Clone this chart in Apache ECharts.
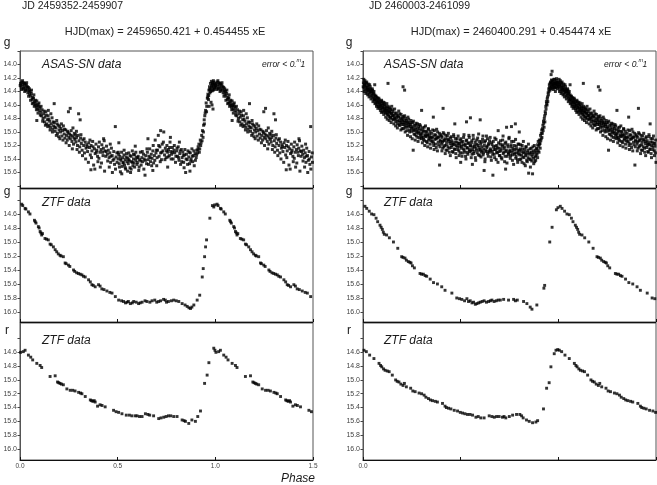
<!DOCTYPE html>
<html><head><meta charset="utf-8">
<script src="https://cdn.jsdelivr.net/npm/echarts@6/dist/echarts.min.js"></script>
<style>html,body{margin:0;padding:0;background:#fff}#c{width:657px;height:485px}</style>
</head><body><div id="c"></div>
<script>
// ---- data: [phase, magnitude], phase 0..1 (phase <= 0.5 repeated at +1 for the 0..1.5 plot) ----
const leftAsasG = [
[0.003,14.28],[0.006,14.33],[0.009,14.26],[0.012,14.30],[0.015,14.36],[0.018,14.27],[0.021,14.32],[0.024,14.40],[0.027,14.29],[0.030,14.35],[0.033,14.31],[0.036,14.38],[0.040,14.42],[0.043,14.34],[0.046,14.39],[0.049,14.44],
[0.052,14.40],[0.055,14.47],[0.058,14.43],[0.062,14.52],[0.065,14.49],[0.068,14.57],[0.071,14.45],[0.074,14.55],[0.077,14.60],[0.080,14.58],[0.083,14.63],[0.086,14.54],[0.090,14.66],[0.093,14.59],[0.096,14.62],[0.099,14.68],
[0.102,14.64],[0.106,14.71],[0.110,14.76],[0.113,14.67],[0.118,14.80],[0.121,14.73],[0.125,14.85],[0.128,14.78],[0.132,14.70],[0.136,14.88],[0.140,14.82],[0.144,14.76],[0.148,14.90],[0.086,14.83],
[0.152,14.84],[0.156,14.93],[0.160,14.88],[0.164,14.79],[0.168,14.96],[0.172,14.91],[0.176,14.86],[0.180,14.99],[0.184,14.94],[0.188,14.83],[0.192,15.02],[0.196,14.90],[0.200,14.97],
[0.203,14.92],[0.207,15.00],[0.210,14.95],[0.214,15.06],[0.218,14.98],[0.222,14.91],[0.226,15.03],[0.230,15.09],[0.234,14.97],[0.238,15.05],[0.242,15.12],[0.246,15.01],[0.250,15.08],
[0.257,14.65],[0.248,14.70],[0.300,14.73],[0.308,14.82],
[0.254,15.03],[0.258,15.10],[0.262,14.98],[0.266,15.14],[0.270,15.06],[0.274,15.18],[0.278,15.02],[0.282,15.11],[0.286,15.15],[0.290,15.08],[0.294,15.20],[0.298,15.05],
[0.302,15.13],[0.306,15.22],[0.310,15.09],[0.314,15.17],[0.318,15.27],[0.322,15.12],[0.326,15.20],[0.330,15.31],[0.334,15.15],[0.338,15.24],[0.342,15.19],[0.346,15.29],
[0.352,15.16],[0.356,15.23],[0.360,15.34],[0.364,15.20],[0.368,15.28],[0.372,15.14],[0.377,15.49],[0.381,15.25],[0.385,15.32],[0.389,15.18],[0.393,15.27],[0.397,15.36],
[0.402,15.22],[0.406,15.15],[0.411,15.52],[0.415,15.26],[0.419,15.19],[0.423,15.30],[0.427,15.24],[0.431,15.13],[0.435,15.28],[0.439,15.36],[0.443,15.21],[0.447,15.33],
[0.452,15.27],[0.456,15.38],[0.460,15.31],[0.464,15.45],[0.468,15.24],[0.472,15.35],[0.476,15.42],[0.480,15.29],[0.484,15.48],[0.488,14.92],[0.492,15.37],[0.496,15.31],
[0.502,15.40],[0.505,15.33],[0.508,15.47],[0.511,15.36],[0.514,15.59],[0.517,15.42],[0.520,15.30],[0.523,15.51],[0.526,15.38],[0.529,15.45],[0.532,15.34],[0.535,15.49],[0.538,15.41],[0.541,15.55],[0.544,15.37],[0.547,15.44],
[0.551,15.39],[0.554,15.47],[0.557,15.31],[0.560,15.43],[0.563,15.53],[0.566,15.60],[0.569,15.36],[0.572,15.44],[0.575,15.28],[0.578,15.50],[0.581,15.40],[0.584,15.46],[0.587,15.34],[0.590,15.21],[0.593,15.42],[0.596,15.38],
[0.601,15.45],[0.605,15.36],[0.608,15.57],[0.612,15.41],[0.616,15.30],[0.620,15.49],[0.624,15.38],[0.628,15.44],[0.632,15.33],[0.636,15.40],[0.640,15.64],[0.644,15.35],[0.648,15.47],
[0.652,15.30],[0.656,15.41],[0.660,15.36],[0.664,15.25],[0.668,15.44],[0.672,15.33],[0.676,15.39],[0.680,15.28],[0.684,15.46],[0.688,15.35],[0.692,15.12],[0.696,15.31],[0.700,15.50],
[0.704,15.27],[0.708,15.05],[0.712,15.36],[0.716,15.22],[0.720,15.31],[0.724,15.41],[0.728,15.18],[0.732,15.28],[0.736,15.00],[0.740,15.34],[0.744,15.24],[0.748,15.38],
[0.752,15.20],[0.756,15.30],[0.760,15.26],[0.764,15.35],[0.768,15.15],[0.772,15.29],[0.776,15.33],[0.780,15.23],[0.784,15.40],[0.788,15.27],[0.792,15.31],[0.796,15.45],
[0.802,15.28],[0.806,15.36],[0.810,15.22],[0.814,15.42],[0.818,15.32],[0.822,15.48],[0.826,15.26],[0.830,15.38],[0.834,15.30],[0.838,15.45],[0.842,15.34],[0.848,15.60],
[0.852,15.33],[0.856,15.41],[0.860,15.28],[0.864,15.37],[0.868,15.47],[0.872,15.31],[0.876,15.40],[0.880,15.25],[0.884,15.44],[0.888,15.35],[0.892,15.50],[0.896,15.32],
[0.902,15.38],[0.905,15.27],[0.909,15.31],[0.912,15.22],[0.916,15.18],[0.920,15.25],[0.923,15.12],[0.927,15.16],[0.930,15.05],[0.934,14.98],[0.937,15.08],[0.940,14.90],[0.943,14.82],[0.946,14.76],
[0.950,14.68],[0.953,14.57],[0.956,14.62],[0.959,14.50],[0.962,14.44],[0.965,14.52],[0.967,14.38],[0.970,14.33],[0.972,14.42],[0.975,14.28],[0.977,14.36],[0.980,14.25],[0.982,14.31],[0.984,14.39],[0.986,14.27],[0.988,14.34],[0.990,14.24],[0.992,14.30],[0.994,14.37],[0.996,14.29],[0.998,14.33],[0.978,14.56],[0.988,14.66],
[0.001,14.31],[0.008,14.37],[0.013,14.24],[0.019,14.35],[0.023,14.28],[0.028,14.38],[0.034,14.27],[0.038,14.33],[0.044,14.47],[0.048,14.36],[0.054,14.53],[0.059,14.38],[0.063,14.58],[0.069,14.50],[0.073,14.62],[0.079,14.53],[0.084,14.67],[0.088,14.61],[0.092,14.72],[0.097,14.57],
[0.104,14.75],[0.108,14.62],[0.116,14.84],[0.123,14.69],[0.130,14.90],[0.134,14.75],[0.142,14.92],[0.147,14.81],[0.154,14.97],[0.158,14.73],[0.166,15.00],[0.170,14.85],[0.178,14.93],[0.186,15.05],[0.190,14.88],[0.198,15.07],[0.145,14.68],[0.175,14.58],
[0.204,15.10],[0.212,14.88],[0.220,15.12],[0.228,14.96],[0.236,15.16],[0.244,14.99],[0.252,15.20],[0.260,15.05],[0.268,15.25],[0.276,15.09],[0.284,15.04],[0.292,15.26],[0.271,14.94],[0.289,14.99],
[0.304,15.30],[0.312,15.04],[0.320,15.35],[0.328,15.10],[0.336,15.40],[0.344,15.22],[0.350,15.45],[0.358,15.12],[0.366,15.38],[0.374,15.22],[0.383,15.55],[0.391,15.30],[0.399,15.44],[0.363,15.56],
[0.404,15.39],[0.409,15.30],[0.417,15.46],[0.425,15.35],[0.433,15.58],[0.441,15.29],[0.449,15.43],[0.457,15.52],[0.465,15.36],[0.473,15.60],[0.481,15.40],[0.489,15.55],[0.497,15.45],[0.428,15.10],[0.462,15.18],
[0.503,15.30],[0.509,15.52],[0.515,15.40],[0.521,15.62],[0.527,15.46],[0.533,15.27],[0.539,15.53],[0.545,15.32],[0.551,15.58],[0.557,15.41],[0.563,15.35],[0.569,15.55],[0.575,15.45],[0.581,15.33],[0.587,15.52],[0.593,15.30],[0.599,15.48],[0.506,15.16],
[0.603,15.38],[0.610,15.52],[0.618,15.43],[0.626,15.29],[0.634,15.55],[0.642,15.42],[0.650,15.25],[0.658,15.48],[0.666,15.38],[0.674,15.50],[0.682,15.20],[0.690,15.42],[0.698,15.27],[0.655,15.10],[0.680,15.57],
[0.702,15.38],[0.710,15.20],[0.718,15.44],[0.726,15.30],[0.734,15.15],[0.742,15.41],[0.750,15.28],[0.758,15.37],[0.766,15.23],[0.774,15.40],[0.782,15.30],[0.790,15.20],[0.798,15.36],[0.720,14.98],[0.770,15.08],[0.756,15.52],
[0.804,15.24],[0.812,15.38],[0.820,15.28],[0.828,15.44],[0.836,15.35],[0.844,15.26],[0.850,15.40],[0.858,15.48],[0.866,15.30],[0.874,15.43],[0.882,15.36],[0.890,15.28],[0.898,15.42],[0.816,15.15],[0.870,15.58],[0.840,15.53],
[0.904,15.34],[0.911,15.26],[0.918,15.30],[0.925,15.20],[0.932,15.13],[0.939,15.00],[0.944,14.88],[0.948,14.72],[0.955,14.70],[0.961,14.48],[0.966,14.46],[0.971,14.37],[0.976,14.40],[0.981,14.33],[0.985,14.29],[0.989,14.38],[0.993,14.26],[0.997,14.35],[0.983,14.60],[0.968,14.62]
];
const leftZtfG = [
[0.009,14.46],[0.014,14.48],[0.026,14.52],[0.030,14.53],[0.043,14.57],[0.051,14.60],[0.074,14.69],[0.078,14.71],[0.082,14.73],[0.094,14.78],[0.098,14.80],[0.103,14.85],[0.107,14.87],[0.111,14.90],[0.115,14.88],[0.128,14.95],[0.136,14.96],[0.145,14.97],[0.154,15.03],[0.160,15.04],[0.171,15.07],[0.180,15.11],[0.188,15.14],[0.196,15.17],[0.205,15.19],[0.210,15.20],[0.222,15.21],[0.231,15.30],[0.236,15.31],[0.248,15.33],[0.255,15.35],[0.274,15.40],[0.280,15.42],[0.290,15.44],[0.299,15.45],[0.308,15.46],[0.317,15.47],[0.325,15.49],[0.334,15.50],[0.351,15.54],[0.360,15.57],[0.368,15.61],[0.375,15.62],[0.385,15.64],[0.402,15.61],[0.410,15.63],[0.419,15.67],[0.430,15.68],[0.445,15.70],[0.460,15.72],[0.471,15.73],[0.488,15.78],[0.505,15.83],[0.520,15.84],[0.530,15.85],[0.540,15.87],[0.548,15.86],[0.555,15.85],[0.565,15.88],[0.575,15.87],[0.582,15.85],[0.595,15.86],[0.607,15.88],[0.615,15.87],[0.625,15.86],[0.640,15.84],[0.650,15.85],[0.665,15.86],[0.676,15.84],[0.690,15.83],[0.700,15.86],[0.710,15.85],[0.720,15.84],[0.735,15.82],[0.744,15.83],[0.750,15.86],[0.760,15.85],[0.775,15.84],[0.787,15.83],[0.800,15.84],[0.813,15.85],[0.830,15.88],[0.845,15.90],[0.856,15.92],[0.865,15.94],[0.873,15.95],[0.880,15.93],[0.890,15.90],[0.907,15.83],[0.920,15.76],[0.933,15.50],[0.938,15.38],[0.945,15.21],[0.950,15.07],[0.955,14.97],[0.972,14.66],[0.985,14.48],[0.992,14.50],[0.997,14.47]
];
const leftZtfR = [
[0.003,14.60],[0.017,14.59],[0.026,14.57],[0.043,14.64],[0.055,14.67],[0.065,14.71],[0.086,14.76],[0.103,14.79],[0.111,14.82],[0.154,14.95],[0.180,14.94],[0.192,15.03],[0.198,15.04],[0.205,15.05],[0.212,15.06],[0.222,15.07],[0.240,15.13],[0.257,15.15],[0.270,15.15],[0.282,15.16],[0.300,15.18],[0.310,15.19],[0.317,15.20],[0.334,15.24],[0.360,15.29],[0.366,15.30],[0.373,15.31],[0.380,15.30],[0.385,15.32],[0.397,15.38],[0.410,15.36],[0.420,15.37],[0.436,15.39],[0.479,15.44],[0.492,15.46],[0.505,15.47],[0.522,15.49],[0.544,15.51],[0.560,15.51],[0.573,15.52],[0.590,15.52],[0.599,15.52],[0.612,15.53],[0.625,15.53],[0.642,15.49],[0.655,15.50],[0.664,15.51],[0.684,15.52],[0.710,15.56],[0.722,15.55],[0.736,15.54],[0.748,15.53],[0.760,15.52],[0.772,15.52],[0.787,15.53],[0.804,15.53],[0.830,15.58],[0.840,15.59],[0.847,15.60],[0.864,15.63],[0.880,15.58],[0.898,15.60],[0.910,15.53],[0.924,15.45],[0.945,15.05],[0.958,14.93],[0.967,14.75],[0.992,14.54],[0.998,14.57]
];
const rightAsasG = [
[0.002,14.27],[0.005,14.35],[0.007,14.30],[0.010,14.24],[0.012,14.38],[0.015,14.32],[0.017,14.28],[0.020,14.41],[0.022,14.34],[0.025,14.37],[0.027,14.29],[0.030,14.44],[0.032,14.36],[0.035,14.40],[0.037,14.33],[0.040,14.47],[0.042,14.39],[0.045,14.43],[0.047,14.36],[0.050,14.50],
[0.052,14.42],[0.055,14.48],[0.057,14.53],[0.060,14.45],[0.062,14.51],[0.065,14.57],[0.067,14.47],[0.070,14.54],[0.072,14.60],[0.075,14.50],[0.077,14.56],[0.080,14.62],[0.082,14.52],[0.085,14.59],[0.087,14.65],[0.090,14.55],[0.092,14.61],[0.095,14.53],[0.097,14.66],[0.100,14.58],
[0.128,14.28],[0.205,14.33],[0.213,14.38],[0.060,14.30],
[0.102,14.63],[0.105,14.56],[0.107,14.69],[0.110,14.60],[0.112,14.66],[0.115,14.72],[0.117,14.62],[0.120,14.68],[0.122,14.58],[0.125,14.74],[0.127,14.65],[0.130,14.70],[0.132,14.77],[0.135,14.64],[0.137,14.71],[0.140,14.79],[0.142,14.67],[0.145,14.73],[0.147,14.62],[0.150,14.76],
[0.153,14.70],[0.156,14.82],[0.159,14.75],[0.162,14.66],[0.165,14.79],[0.168,14.85],[0.171,14.72],[0.174,14.78],[0.177,14.88],[0.180,14.76],[0.183,14.69],[0.186,14.83],[0.189,14.90],[0.192,14.79],[0.195,14.74],[0.198,14.86],[0.200,14.95],
[0.203,14.82],[0.206,14.77],[0.209,14.89],[0.212,14.84],[0.215,14.93],[0.218,14.80],[0.221,14.87],[0.224,14.98],[0.227,14.85],[0.230,14.78],[0.233,14.91],[0.236,14.86],[0.239,15.00],[0.242,14.89],[0.245,14.83],[0.248,14.95],
[0.251,14.92],[0.254,14.86],[0.257,15.27],[0.260,14.98],[0.263,14.90],[0.266,15.04],[0.269,14.94],[0.272,14.87],[0.275,15.01],[0.278,14.96],[0.281,15.08],[0.284,14.92],[0.287,15.00],[0.290,14.89],[0.293,15.05],[0.296,14.97],[0.299,15.10],
[0.300,14.68],[0.360,14.78],[0.410,14.65],
[0.302,15.02],[0.305,14.94],[0.308,15.08],[0.311,14.99],[0.314,15.13],[0.317,15.04],[0.320,14.91],[0.323,15.07],[0.326,15.00],[0.329,15.16],[0.332,15.05],[0.335,14.96],[0.338,15.10],[0.341,15.03],[0.344,15.18],[0.347,15.08],
[0.352,15.02],[0.355,15.14],[0.358,15.07],[0.362,15.20],[0.365,14.98],[0.368,15.11],[0.372,15.05],[0.375,15.23],[0.378,15.09],[0.382,15.00],[0.385,15.15],[0.388,15.07],[0.392,15.49],[0.395,15.12],[0.398,15.04],
[0.402,15.18],[0.405,15.08],[0.408,15.24],[0.412,15.13],[0.415,15.03],[0.418,15.20],[0.422,15.10],[0.425,15.27],[0.428,15.15],[0.432,15.06],[0.435,15.22],[0.438,15.12],[0.442,15.30],[0.445,15.17],[0.448,15.09],
[0.452,15.23],[0.455,15.13],[0.458,15.29],[0.462,15.18],[0.465,15.07],[0.468,15.25],[0.472,15.15],[0.475,15.32],[0.478,15.20],[0.482,15.10],[0.485,15.26],[0.488,15.17],[0.492,15.35],[0.495,15.21],[0.498,15.12],
[0.470,14.88],[0.500,15.45],[0.530,14.85],
[0.502,15.24],[0.505,15.15],[0.508,15.31],[0.512,15.19],[0.515,15.08],[0.518,15.27],[0.522,15.20],[0.525,15.36],[0.528,15.13],[0.532,15.23],[0.535,15.30],[0.538,15.17],[0.542,15.05],[0.545,15.26],[0.548,15.21],
[0.550,14.79],[0.560,15.48],[0.600,14.82],[0.620,15.57],[0.665,15.64],
[0.552,15.28],[0.555,15.16],[0.558,15.33],[0.562,15.22],[0.565,15.10],[0.568,15.29],[0.572,15.19],[0.575,15.38],[0.578,15.24],[0.582,15.12],[0.585,15.31],[0.588,15.20],[0.592,15.03],[0.595,15.27],[0.598,15.35],
[0.602,15.18],[0.605,15.30],[0.608,15.22],[0.612,15.11],[0.615,15.34],[0.618,15.25],[0.622,15.15],[0.625,15.40],[0.628,15.27],[0.632,15.06],[0.635,15.21],[0.638,15.32],[0.642,15.19],[0.645,15.28],[0.648,15.13],
[0.652,15.25],[0.655,15.37],[0.658,15.16],[0.662,15.29],[0.668,15.22],[0.672,15.33],[0.675,15.09],[0.678,15.26],[0.682,15.41],[0.685,15.20],[0.688,15.31],[0.692,14.98],[0.695,15.24],[0.698,15.35],
[0.702,15.18],[0.705,15.28],[0.708,15.38],[0.712,15.21],[0.715,15.12],[0.718,15.32],[0.722,15.25],[0.725,15.44],[0.728,15.17],[0.732,15.29],[0.735,14.93],[0.738,15.36],[0.742,15.22],[0.745,15.31],[0.748,15.08],
[0.730,15.55],[0.760,14.92],[0.780,14.88],[0.800,15.00],
[0.752,15.27],[0.755,15.35],[0.758,15.19],[0.762,15.30],[0.765,15.42],[0.768,15.24],[0.772,15.14],[0.775,15.33],[0.778,15.26],[0.782,15.39],[0.785,15.21],[0.788,15.31],[0.792,15.45],[0.795,15.28],[0.798,15.18],
[0.802,15.34],[0.805,15.25],[0.808,15.40],[0.812,15.29],[0.815,15.20],[0.818,15.37],[0.822,15.31],[0.825,15.47],[0.828,15.26],[0.832,15.35],[0.835,15.22],[0.838,15.42],[0.842,15.30],[0.845,15.38],[0.848,15.61],
[0.852,15.33],[0.855,15.25],[0.858,15.41],[0.862,15.30],[0.865,15.36],[0.868,15.62],[0.870,15.22],[0.873,15.39],[0.876,15.31],[0.879,15.44],[0.882,15.27],[0.885,15.35],[0.888,15.24],[0.891,15.33],[0.894,15.19],[0.897,15.28],
[0.900,15.21],[0.903,15.12],[0.906,15.17],[0.909,15.05],[0.912,15.10],[0.915,14.97],[0.918,15.02],[0.921,14.90],[0.924,14.84],[0.927,14.93],[0.930,14.76],[0.933,14.70],[0.936,14.62],[0.939,14.55],[0.942,14.60],[0.945,14.48],[0.948,14.42],
[0.951,14.36],[0.954,14.30],[0.957,14.38],[0.960,14.26],[0.962,14.32],[0.965,14.23],[0.967,14.29],[0.970,14.35],[0.972,14.25],[0.975,14.31],[0.977,14.22],[0.980,14.28],[0.982,14.34],[0.985,14.26],[0.987,14.30],[0.990,14.24],[0.992,14.33],[0.995,14.27],[0.997,14.31],[0.968,14.10],[0.963,14.15],[0.985,14.40],
[0.001,14.33],[0.004,14.22],[0.006,14.40],[0.009,14.31],[0.011,14.27],[0.014,14.43],[0.016,14.35],[0.019,14.26],[0.021,14.38],[0.024,14.45],[0.026,14.32],[0.029,14.39],[0.031,14.48],[0.034,14.30],[0.036,14.42],[0.039,14.37],[0.041,14.51],[0.044,14.40],[0.046,14.46],[0.049,14.38],[0.051,14.55],[0.054,14.44],[0.056,14.40],[0.059,14.52],[0.061,14.58],[0.064,14.47],[0.066,14.53],[0.069,14.62],[0.071,14.49],[0.074,14.57],[0.076,14.65],[0.079,14.54],[0.081,14.50],[0.084,14.63],[0.086,14.57],[0.089,14.68],[0.091,14.60],[0.094,14.71],[0.096,14.55],[0.099,14.64],
[0.101,14.70],[0.104,14.60],[0.106,14.74],[0.109,14.65],[0.111,14.57],[0.114,14.69],[0.116,14.78],[0.119,14.64],[0.121,14.72],[0.124,14.81],[0.126,14.68],[0.129,14.62],[0.131,14.75],[0.134,14.83],[0.136,14.70],[0.139,14.66],[0.141,14.78],[0.144,14.86],[0.146,14.72],[0.149,14.81],[0.152,14.67],[0.155,14.76],[0.158,14.88],[0.161,14.80],[0.164,14.72],[0.167,14.91],[0.170,14.82],[0.173,14.75],[0.176,14.94],[0.179,14.84],[0.182,14.78],[0.185,14.90],[0.188,14.73],[0.191,14.86],[0.194,14.97],[0.197,14.82],
[0.201,14.89],[0.204,14.79],[0.207,14.95],[0.210,14.86],[0.213,14.76],[0.216,15.00],[0.219,14.90],[0.222,14.83],[0.225,14.93],[0.228,15.05],[0.231,14.88],[0.234,14.81],[0.237,14.97],[0.240,14.92],[0.243,15.07],[0.246,14.87],[0.249,14.99],[0.252,15.10],[0.255,14.94],[0.258,14.84],[0.261,15.03],[0.264,14.97],[0.267,15.12],[0.270,14.90],[0.273,15.06],[0.276,14.99],[0.279,14.88],[0.282,15.14],[0.285,15.02],[0.288,14.95],[0.291,15.09],[0.294,14.91],[0.297,15.03],
[0.301,15.07],[0.304,15.16],[0.307,14.98],[0.310,15.11],[0.313,14.93],[0.316,15.20],[0.319,15.06],[0.322,14.99],[0.325,15.14],[0.328,15.04],[0.331,15.22],[0.334,14.95],[0.337,15.12],[0.340,15.07],[0.343,14.99],[0.346,15.24],[0.349,15.13],[0.353,15.09],[0.357,14.97],[0.361,15.16],[0.364,15.26],[0.367,15.04],[0.371,15.18],[0.374,15.10],[0.377,14.96],[0.381,15.28],[0.384,15.08],[0.387,15.19],[0.391,15.02],[0.394,15.22],[0.397,15.14],
[0.401,15.06],[0.404,15.28],[0.407,15.15],[0.411,15.01],[0.414,15.22],[0.417,15.12],[0.421,15.32],[0.424,15.05],[0.427,15.19],[0.431,15.27],[0.434,15.11],[0.437,15.02],[0.441,15.24],[0.444,15.14],[0.447,15.35],[0.451,15.07],[0.454,15.20],[0.457,15.16],[0.461,15.30],[0.464,15.04],[0.467,15.19],[0.471,15.26],[0.474,15.10],[0.477,15.38],[0.481,15.15],[0.484,15.22],[0.487,15.06],[0.491,15.28],[0.494,15.17],[0.497,15.31],
[0.501,15.10],[0.504,15.21],[0.507,15.36],[0.511,15.14],[0.514,15.25],[0.517,15.04],[0.521,15.30],[0.524,15.18],[0.527,15.40],[0.531,15.12],[0.534,15.24],[0.537,15.33],[0.541,15.16],[0.544,15.08],[0.547,15.29],[0.551,15.20],[0.554,15.38],[0.557,15.13],[0.561,15.26],[0.564,15.05],[0.567,15.32],[0.571,15.22],[0.574,15.15],[0.577,15.42],[0.581,15.27],[0.584,15.18],[0.587,15.09],[0.591,15.34],[0.594,15.23],[0.597,15.14],
[0.601,15.26],[0.604,15.37],[0.607,15.15],[0.611,15.28],[0.614,15.06],[0.617,15.31],[0.621,15.20],[0.624,15.44],[0.627,15.13],[0.631,15.29],[0.634,15.23],[0.637,15.10],[0.641,15.36],[0.644,15.17],[0.647,15.30],[0.651,15.08],[0.654,15.27],[0.657,15.42],[0.661,15.19],[0.664,15.33],[0.667,15.14],[0.671,15.26],[0.674,15.38],[0.677,15.21],[0.681,15.11],[0.684,15.30],[0.687,15.24],[0.691,15.45],[0.694,15.16],[0.697,15.29],
[0.701,15.35],[0.704,15.13],[0.707,15.25],[0.711,15.40],[0.714,15.19],[0.717,15.06],[0.721,15.30],[0.724,15.22],[0.727,15.36],[0.731,15.15],[0.734,15.27],[0.737,15.46],[0.741,15.19],[0.744,15.33],[0.747,15.10],[0.751,15.29],[0.754,15.39],[0.757,15.22],[0.761,15.14],[0.764,15.34],[0.767,15.27],[0.771,15.48],[0.774,15.20],[0.777,15.31],[0.781,15.11],[0.784,15.36],[0.787,15.25],[0.791,15.41],[0.794,15.18],[0.797,15.32],
[0.801,15.27],[0.804,15.41],[0.807,15.19],[0.811,15.34],[0.814,15.45],[0.817,15.25],[0.821,15.14],[0.824,15.38],[0.827,15.30],[0.831,15.50],[0.834,15.22],[0.837,15.33],[0.841,15.44],[0.844,15.27],[0.847,15.18],[0.851,15.40],[0.854,15.31],[0.857,15.52],[0.861,15.24],[0.864,15.43],[0.867,15.33],[0.871,15.28],[0.874,15.47],[0.877,15.20],[0.881,15.37],[0.884,15.42],[0.887,15.30],[0.891,15.25],[0.894,15.38],[0.897,15.14],
[0.901,15.30],[0.904,15.18],[0.907,15.24],[0.910,15.13],[0.913,15.02],[0.916,15.08],[0.919,14.95],[0.922,14.98],[0.925,14.87],[0.928,14.80],[0.931,14.85],[0.934,14.73],[0.937,14.66],[0.940,14.58],[0.943,14.51],[0.946,14.55],[0.949,14.45],[0.952,14.40],[0.955,14.34],[0.958,14.28],[0.961,14.36],[0.964,14.27],[0.966,14.33],[0.969,14.24],[0.971,14.30],[0.974,14.37],[0.976,14.27],[0.979,14.33],[0.981,14.22],[0.984,14.29],[0.986,14.35],[0.989,14.28],[0.991,14.21],[0.994,14.30],[0.996,14.36],[0.999,14.26]
];
const rightZtfG = [
[0.010,14.49],[0.019,14.52],[0.032,14.56],[0.044,14.60],[0.056,14.61],[0.067,14.66],[0.075,14.71],[0.087,14.76],[0.093,14.79],[0.099,14.82],[0.104,14.86],[0.109,14.89],[0.121,14.90],[0.135,14.94],[0.156,15.00],[0.178,15.09],[0.198,15.21],[0.205,15.22],[0.215,15.23],[0.222,15.26],[0.232,15.28],[0.240,15.29],[0.246,15.30],[0.253,15.34],[0.263,15.37],[0.292,15.45],[0.300,15.46],[0.309,15.46],[0.318,15.48],[0.326,15.49],[0.344,15.53],[0.361,15.58],[0.381,15.60],[0.403,15.64],[0.420,15.69],[0.455,15.73],[0.480,15.80],[0.494,15.81],[0.506,15.82],[0.520,15.84],[0.532,15.81],[0.540,15.85],[0.549,15.84],[0.558,15.87],[0.566,15.86],[0.575,15.89],[0.583,15.88],[0.592,15.87],[0.600,15.86],[0.610,15.85],[0.620,15.84],[0.632,15.86],[0.643,15.85],[0.652,15.84],[0.660,15.83],[0.671,15.85],[0.682,15.84],[0.692,15.83],[0.703,15.83],[0.720,15.82],[0.745,15.83],[0.771,15.82],[0.780,15.84],[0.790,15.83],[0.822,15.85],[0.839,15.88],[0.856,15.93],[0.865,15.96],[0.890,15.90],[0.926,15.66],[0.930,15.62],[0.956,15.00],[0.968,14.79],[0.990,14.54],[0.998,14.51]
];
const rightZtfR = [
[0.005,14.57],[0.017,14.59],[0.034,14.64],[0.056,14.69],[0.082,14.76],[0.090,14.79],[0.096,14.81],[0.105,14.84],[0.113,14.86],[0.124,14.87],[0.134,14.88],[0.150,14.93],[0.167,15.00],[0.175,15.02],[0.184,15.03],[0.194,15.06],[0.205,15.08],[0.212,15.05],[0.222,15.10],[0.244,15.12],[0.255,15.16],[0.267,15.17],[0.287,15.19],[0.300,15.20],[0.313,15.22],[0.322,15.25],[0.335,15.27],[0.345,15.29],[0.356,15.30],[0.370,15.31],[0.381,15.32],[0.407,15.34],[0.420,15.38],[0.427,15.40],[0.438,15.41],[0.450,15.42],[0.467,15.44],[0.484,15.45],[0.498,15.47],[0.510,15.48],[0.522,15.49],[0.535,15.50],[0.548,15.50],[0.561,15.51],[0.578,15.54],[0.590,15.53],[0.603,15.55],[0.620,15.55],[0.646,15.52],[0.660,15.53],[0.672,15.54],[0.684,15.53],[0.697,15.53],[0.714,15.54],[0.722,15.53],[0.731,15.55],[0.749,15.53],[0.766,15.51],[0.786,15.50],[0.803,15.50],[0.812,15.52],[0.820,15.55],[0.837,15.58],[0.851,15.60],[0.868,15.62],[0.885,15.61],[0.894,15.59],[0.924,15.42],[0.940,15.12],[0.953,15.04],[0.962,14.81],[0.979,14.62],[0.988,14.57],[0.997,14.56]
];
const xTickValues = [0, 0.5, 1.0, 1.5];
const asasTickValues = [13.8, 14.0, 14.2, 14.4, 14.6, 14.8, 15.0, 15.2, 15.4, 15.6, 15.8];
const asasLabelValues = [14.0, 14.2, 14.4, 14.6, 14.8, 15.0, 15.2, 15.4, 15.6];
const ztfTickValues = [14.4, 14.6, 14.8, 15.0, 15.2, 15.4, 15.6, 15.8, 16.0];
const ztfLabelValues = [14.6, 14.8, 15.0, 15.2, 15.4, 15.6, 15.8, 16.0];
const titlesJD = ['JD 2459352-2459907', 'JD 2460003-2461099'];
const titlesEph = ['HJD(max) = 2459650.421 + 0.454455 xE', 'HJD(max) = 2460400.291 + 0.454474 xE'];

function unfold(arr) {
  const out = arr.slice();
  arr.forEach(p => { if (p[0] <= 0.5) out.push([p[0] + 1, p[1]]); });
  return out;
}

const FONT = '"Liberation Sans", Arial, sans-serif';
const panels = [
  {left: 20, top: 51, height: 137, min: 13.8, max: 15.83, data: leftAsasG, ticks: asasTickValues, labels: asasLabelValues, xl: null, size: 3},
  {left: 20, top: 189, height: 133, min: 14.243, max: 16.143, data: leftZtfG, ticks: ztfTickValues, labels: ztfLabelValues, xl: null, size: 2.9},
  {left: 20, top: 323, height: 137, min: 14.175, max: 16.16, data: leftZtfR, ticks: ztfTickValues, labels: ztfLabelValues, xl: xTickValues, size: 2.9},
  {left: 363, top: 51, height: 137, min: 13.8, max: 15.83, data: rightAsasG, ticks: asasTickValues, labels: asasLabelValues, xl: null, size: 3},
  {left: 363, top: 189, height: 133, min: 14.243, max: 16.143, data: rightZtfG, ticks: ztfTickValues, labels: ztfLabelValues, xl: null, size: 2.9},
  {left: 363, top: 323, height: 137, min: 14.175, max: 16.16, data: rightZtfR, ticks: ztfTickValues, labels: ztfLabelValues, xl: [0], size: 2.9}
];

const grid = [], xAxis = [], yAxis = [], series = [];
panels.forEach((p, i) => {
  grid.push({left: p.left, top: p.top, width: 293, height: p.height, show: true, borderColor: '#555', borderWidth: 1, containLabel: false});
  xAxis.push({
    type: 'value', gridIndex: i, min: 0, max: 1.5, interval: 0.5,
    axisLine: {show: true, onZero: false, lineStyle: {color: '#111', width: 1}},
    axisTick: {show: true, inside: true, length: 3, lineStyle: {color: '#111'}, customValues: xTickValues},
    axisLabel: p.xl ? {show: true, customValues: p.xl, fontSize: 6.5, fontFamily: FONT, color: '#444', margin: 3, formatter: v => v.toFixed(1)} : {show: false},
    splitLine: {show: false}
  });
  yAxis.push({
    type: 'value', gridIndex: i, inverse: true, min: p.min, max: p.max,
    axisLine: {show: true, onZero: false, lineStyle: {color: '#555', width: 1}},
    axisTick: {show: true, inside: false, length: 2.5, lineStyle: {color: '#444'}, customValues: p.ticks},
    axisLabel: {show: true, customValues: p.labels, fontSize: 7, fontFamily: FONT, color: '#444', margin: 3, formatter: v => v.toFixed(1)},
    splitLine: {show: false}
  });
  series.push({
    type: 'scatter', xAxisIndex: i, yAxisIndex: i, data: unfold(p.data),
    symbol: 'rect', symbolSize: p.size, itemStyle: {color: '#000'}, silent: true, clip: true
  });
});

function txt(x, y, text, size, opts) {
  return Object.assign({type: 'text', x: x, y: y, silent: true,
    style: Object.assign({text: text, fontSize: size, fontFamily: FONT, fill: '#1a1a1a', align: 'left', verticalAlign: 'middle'}, opts || {})});
}
const graphic = [];
[0, 342].forEach((dx, c) => {
  graphic.push(txt(22 + (c ? 347 : 0), 6, titlesJD[c], 10.5, {fill: '#222'}));
  graphic.push(txt(165 + (c ? 346 : 0), 32, titlesEph[c], 11, {align: 'center', fill: '#222'}));
  graphic.push(txt(7 + dx, 43, 'g', 12, {align: 'center'}));
  graphic.push(txt(7 + dx, 192, 'g', 12, {align: 'center'}));
  graphic.push(txt(7 + dx, 331, 'r', 12, {align: 'center'}));
  graphic.push(txt(42 + dx, 65, 'ASAS-SN data', 12, {fontStyle: 'italic'}));
  graphic.push(txt(42 + dx, 203, 'ZTF data', 12, {fontStyle: 'italic'}));
  graphic.push(txt(42 + dx, 341, 'ZTF data', 12, {fontStyle: 'italic'}));
  graphic.push(txt(262 + dx, 65, 'error < 0.', 8.5, {fontStyle: 'italic'}));
  graphic.push(txt(296.5 + dx, 60.5, 'm', 5.5, {fontStyle: 'italic'}));
  graphic.push(txt(300.5 + dx, 65, '1', 8.5, {fontStyle: 'italic'}));
});
graphic.push(txt(298, 479, 'Phase', 12, {align: 'center', fontStyle: 'italic'}));

const chart = echarts.init(document.getElementById('c'), null, {renderer: 'canvas'});
chart.setOption({animation: false, backgroundColor: '#fff', grid, xAxis, yAxis, series, graphic});
</script></body></html>
